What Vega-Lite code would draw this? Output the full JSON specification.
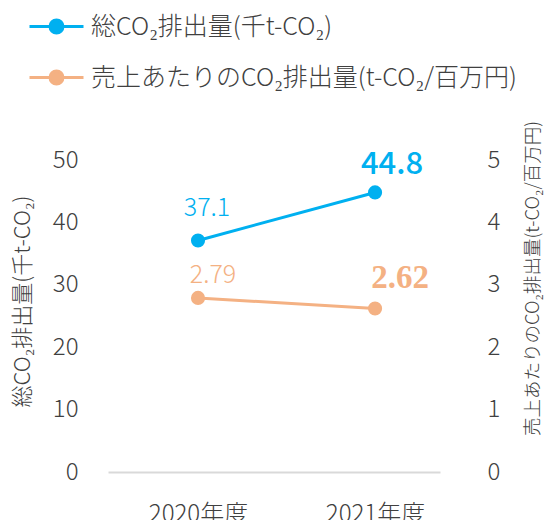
{
  "$schema": "https://vega.github.io/schema/vega-lite/v6.json",
  "width": 332,
  "height": 312,
  "autosize": {"type": "none"},
  "padding": {"left": 108, "top": 160, "right": 105, "bottom": 48},
  "background": "white",
  "config": {
    "view": {"stroke": null},
    "font": "Noto Sans CJK JP",
    "axis": {"labelFont": "Noto Sans CJK JP", "titleFont": "Noto Sans CJK JP", "labelFontWeight": 300, "titleFontWeight": 300, "labelColor": "#404040", "titleColor": "#404040", "grid": false, "ticks": false}
  },
  "data": {
    "values": [
      {"year": 2020, "series": "総CO₂排出量(千t-CO₂)", "value": 37.1},
      {"year": 2021, "series": "総CO₂排出量(千t-CO₂)", "value": 44.8},
      {"year": 2020, "series": "売上あたりのCO₂排出量(t-CO₂/百万円)", "value": 2.79},
      {"year": 2021, "series": "売上あたりのCO₂排出量(t-CO₂/百万円)", "value": 2.62}
    ]
  },
  "encoding": {
    "x": {
      "field": "year", "type": "quantitative",
      "scale": {"domain": [2019.4915, 2021.367], "nice": false, "zero": false},
      "axis": {"title": null, "values": [2020, 2021], "labelExpr": "datum.value + '年度'", "labelFontSize": 24, "labelPadding": 30, "domainColor": "#d9d9d9", "domainWidth": 2, "labelFlush": false}
    }
  },
  "layer": [
    {
      "transform": [{"filter": "datum.series === '総CO₂排出量(千t-CO₂)'"}],
      "encoding": {
        "y": {
          "field": "value", "type": "quantitative",
          "scale": {"domain": [0, 50], "nice": false},
          "axis": {"title": "総CO₂排出量(千t-CO₂)", "values": [0, 10, 20, 30, 40, 50], "domain": false, "labelFontSize": 24, "labelPadding": 30, "titleFontSize": 22, "titleAngle": -90, "titleX": -86, "titleY": 141, "titleAlign": "center", "titleBaseline": "middle"}
        }
      },
      "layer": [
        {
          "mark": {"type": "line", "strokeWidth": 3, "point": {"filled": true, "size": 200}},
          "encoding": {
            "color": {
              "field": "series", "type": "nominal",
              "scale": {"domain": ["総CO₂排出量(千t-CO₂)", "売上あたりのCO₂排出量(t-CO₂/百万円)"], "range": ["#00b0f0", "#f4b183"]},
              "legend": {
                "orient": "none", "legendX": -66.5, "legendY": -148.5, "title": null,
                "symbolType": "M-2,0L2,0M-0.48,0A0.48,0.48,0,1,0,0.48,0A0.48,0.48,0,1,0,-0.48,0",
                "symbolSize": 729, "symbolStrokeWidth": 3,
                "labelFontSize": 25, "labelFont": "Noto Sans CJK JP", "labelFontWeight": 300, "labelColor": "#404040", "labelOffset": 19.5, "rowPadding": 23, "labelLimit": 600,
                "encode": {"symbols": {"update": {"fill": {"scale": "color", "field": "value"}, "stroke": {"scale": "color", "field": "value"}}}}
              }
            }
          }
        },
        {
          "transform": [{"filter": "datum.year === 2020"}],
          "mark": {"type": "text", "color": "#00b0f0", "fontSize": 25, "fontWeight": 300, "baseline": "alphabetic", "dx": 9, "dy": -24},
          "encoding": {"text": {"field": "value", "type": "quantitative", "format": ".1f"}}
        },
        {
          "transform": [{"filter": "datum.year === 2021"}],
          "mark": {"type": "text", "color": "#00b0f0", "fontSize": 31, "fontWeight": 500, "font": "Noto Sans CJK JP", "baseline": "alphabetic", "dx": 17, "dy": -18},
          "encoding": {"text": {"field": "value", "type": "quantitative", "format": ".1f"}}
        }
      ]
    },
    {
      "transform": [{"filter": "datum.series !== '総CO₂排出量(千t-CO₂)'"}],
      "encoding": {
        "y": {
          "field": "value", "type": "quantitative",
          "scale": {"domain": [0, 5], "nice": false},
          "axis": {"title": "売上あたりのCO₂排出量(t-CO₂/百万円)", "orient": "right", "values": [0, 1, 2, 3, 4, 5], "domain": false, "labelFontSize": 24, "labelPadding": 47, "titleFontSize": 18.5, "titleAngle": -90, "titleX": 92, "titleY": 118, "titleAlign": "center", "titleBaseline": "middle"}
        }
      },
      "layer": [
        {
          "mark": {"type": "line", "strokeWidth": 3, "point": {"filled": true, "size": 200}},
          "encoding": {
            "color": {"field": "series", "type": "nominal"}
          }
        },
        {
          "transform": [{"filter": "datum.year === 2020"}],
          "mark": {"type": "text", "color": "#f4b183", "fontSize": 25, "fontWeight": 300, "baseline": "alphabetic", "dx": 15, "dy": -15},
          "encoding": {"text": {"field": "value", "type": "quantitative", "format": ".2f"}}
        },
        {
          "transform": [{"filter": "datum.year === 2021"}],
          "mark": {"type": "text", "color": "#f4b183", "fontSize": 33, "fontWeight": "bold", "font": "Liberation Serif", "baseline": "alphabetic", "dx": 25, "dy": -21},
          "encoding": {"text": {"field": "value", "type": "quantitative", "format": ".2f"}}
        }
      ]
    }
  ],
  "resolve": {"scale": {"y": "independent"}}
}
